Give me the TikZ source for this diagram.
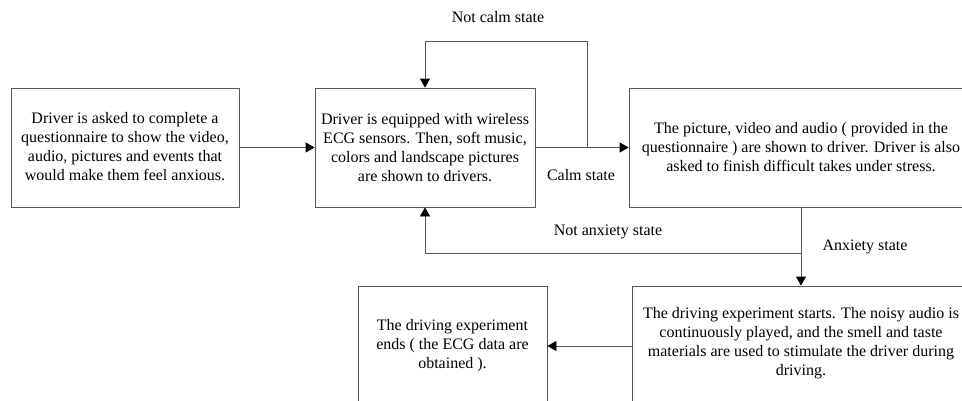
\documentclass[tikz,border=0pt]{standalone}
\usepackage{fontspec}
\setmainfont{Liberation Serif}
\usetikzlibrary{arrows.meta,calc}
\begin{document}
\begin{tikzpicture}[x=1pt,y=-1pt,
  box/.style={draw=black!65,line width=0.8pt,rectangle,inner sep=0pt},
  txt/.style={align=center,font=\fontsize{16}{19}\selectfont,inner sep=0pt},
  lbl/.style={font=\fontsize{16}{19}\selectfont,inner sep=0pt},
  arr/.style={draw=black!65,line width=0.8pt,-{Triangle[length=9pt,width=10pt,color=black]}},
  ln/.style={draw=black!65,line width=0.8pt}]
\useasboundingbox (0,0) rectangle (962,400);
% boxes
\node[box,minimum width=228pt,minimum height=119pt] (b1) at (125,147.5) {};
\node[txt] (t1) at (125,147) {Driver is asked to complete a\\questionnaire to show the video,\\audio, pictures and events that\\would make them feel anxious.};
\node[box,minimum width=220pt,minimum height=119pt] (b2) at (425,147.5) {};
\node[txt] (t2) at (425,148) {Driver is equipped with wireless\\ECG sensors. Then, soft music,\\colors and landscape pictures\\are shown to drivers.};
\node[box,minimum width=344pt,minimum height=119pt] (b3) at (801,147.5) {};
\node[txt] (t3) at (801,147) {The picture, video and audio ( provided in the\\questionnaire ) are shown to driver. Driver is also\\asked to finish difficult takes under stress.};
\node[box,minimum width=338pt,minimum height=130pt] (b4) at (801,351) {};
\node[txt] (t4) at (801,343) {The driving experiment starts. The noisy audio is\\continuously played, and the smell and taste\\materials are used to stimulate the driver during\\driving.};
\node[box,minimum width=189pt,minimum height=130pt] (b5) at (452.5,351) {};
\node[txt] (t5) at (452.5,346) {The driving experiment\\ends ( the ECG data are\\obtained ).};
% coordinates
\coordinate (j1) at (587,147.5);
\coordinate (c1) at (587,41);
\coordinate (j3) at (801,253);
% connectors
\draw[arr] (b1.east) -- (b2.west);
\draw[arr] (b2.east) -- (b3.west);
\draw[arr] (j1) -- (c1) -| (b2.north);
\draw[arr] (b3.south) -- (b4.north);
\draw[arr] (j3) -| (b2.south);
\draw[arr] (b4.west |- t5) -- (b5.east |- t5);
% labels
\node[lbl] (l1) at (498,17) {Not calm state};
\node[lbl] (l2) at (581,175) {Calm state};
\node[lbl] (l3) at (608,232) {Not anxiety state};
\node[lbl] (l4) at (865,247) {Anxiety state};
\end{tikzpicture}
\end{document}
